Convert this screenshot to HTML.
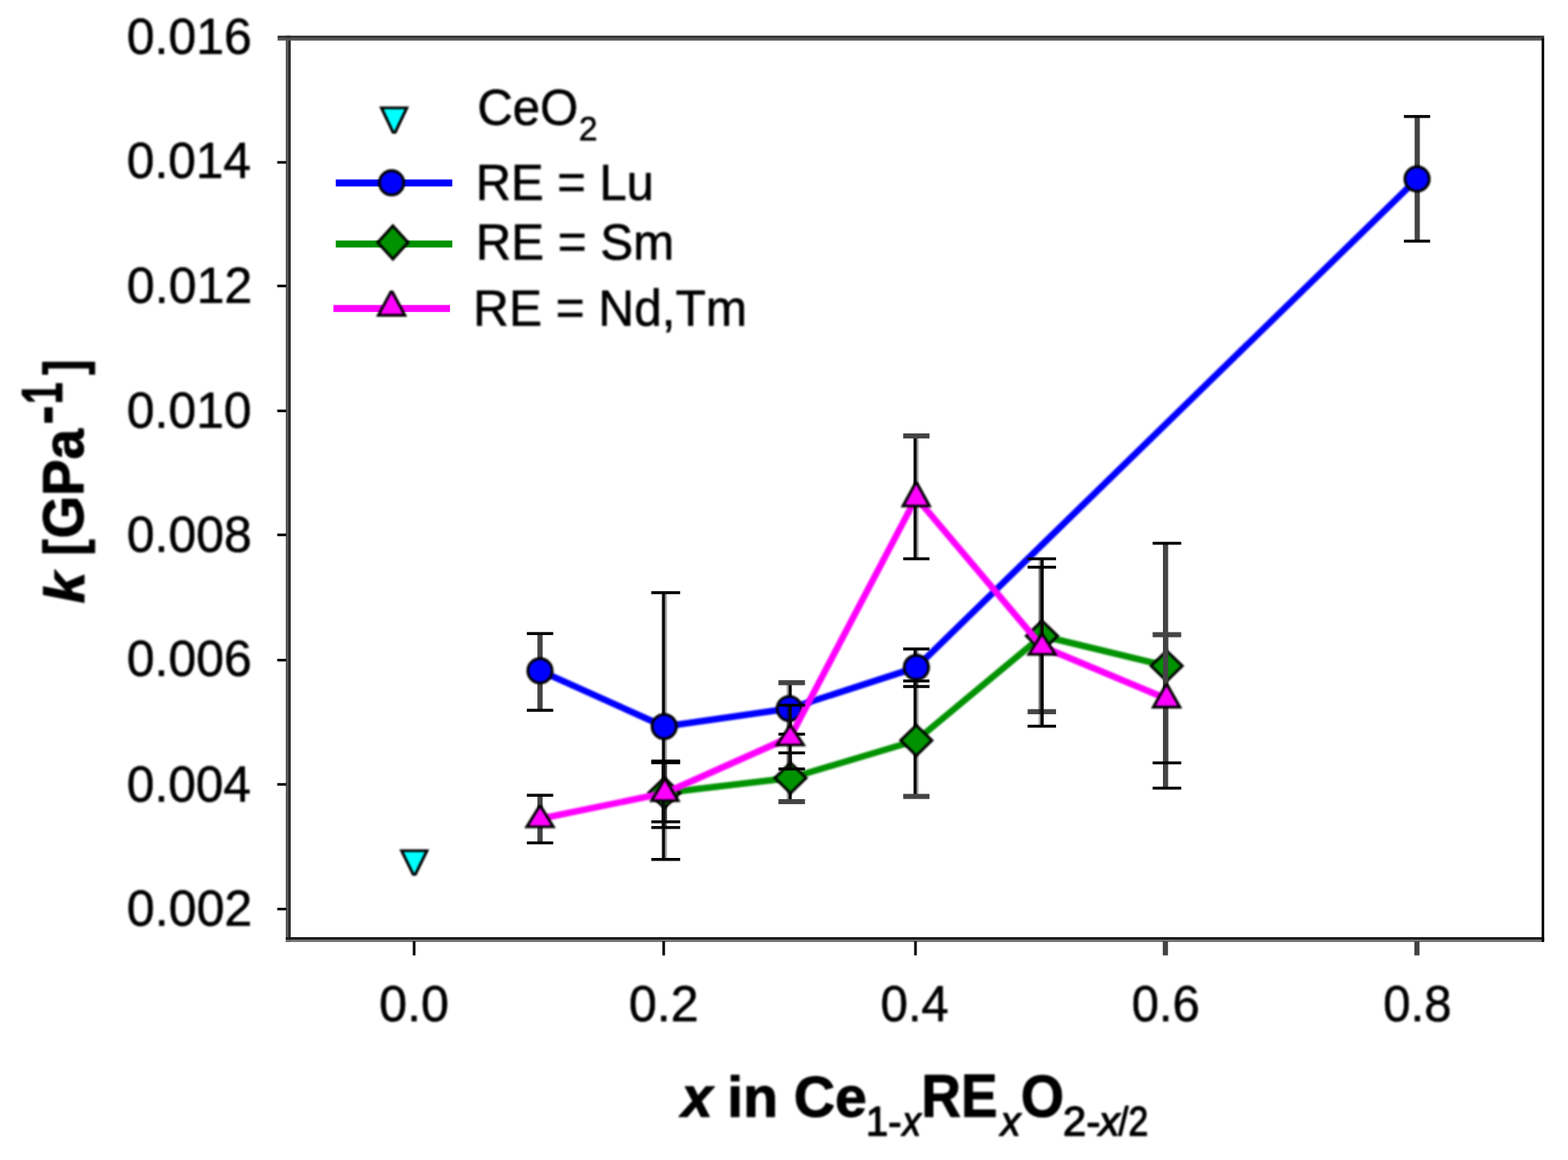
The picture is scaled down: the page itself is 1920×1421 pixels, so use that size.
<!DOCTYPE html>
<html lang="en"><head><meta charset="utf-8"><title>k vs x in Ce1-xRExO2-x/2</title>
<style>
html,body{margin:0;padding:0;background:#fff;}
body{width:1920px;height:1421px;overflow:hidden;}
svg{display:block;font-family:"Liberation Sans",Arial,Helvetica,sans-serif;}
.b{filter:blur(0.9px);}
text{fill:#000;}
.r{stroke:#000;stroke-width:0.7px;stroke-linejoin:round;}
.d{stroke:#000;stroke-width:1.2px;stroke-linejoin:round;}
</style></head><body>
<svg width="1920" height="1421" viewBox="0 0 1920 1421">
<rect x="-20" y="-20" width="1960" height="1461" fill="#fff"/>

<g id="axes">
<rect x="349.90" y="43.70" width="3.00" height="1110.30" fill="#585858"/>
<rect x="352.90" y="43.70" width="3.10" height="1110.30" fill="#2c2c2c"/>
<rect x="339.90" y="43.70" width="1550.90" height="3.10" fill="#2e2e2e"/>
<rect x="339.90" y="46.80" width="1550.90" height="2.90" fill="#545454"/>
<rect x="349.90" y="1148.00" width="1540.90" height="3.10" fill="#1a1a1a"/>
<rect x="349.90" y="1151.10" width="1540.90" height="2.80" fill="#6e6e6e"/>
<rect x="1887.70" y="46.60" width="3.10" height="1107.30" fill="#000"/>
<rect x="339.50" y="1112.00" width="11.00" height="3.20" fill="#000"/>
<rect x="339.50" y="959.30" width="11.00" height="3.20" fill="#000"/>
<rect x="339.50" y="807.10" width="11.00" height="3.20" fill="#000"/>
<rect x="339.50" y="653.60" width="11.00" height="3.20" fill="#000"/>
<rect x="339.50" y="501.70" width="11.00" height="3.20" fill="#000"/>
<rect x="339.50" y="348.70" width="11.00" height="3.20" fill="#000"/>
<rect x="339.50" y="197.30" width="11.00" height="3.20" fill="#000"/>
<rect x="505.50" y="1153.00" width="3.20" height="17.40" fill="#000"/>
<rect x="811.10" y="1153.00" width="3.20" height="17.40" fill="#000"/>
<rect x="1119.40" y="1153.00" width="3.20" height="17.40" fill="#000"/>
<rect x="1423.80" y="1153.00" width="6.40" height="17.40" fill="#444"/>
<rect x="1731.80" y="1153.00" width="6.40" height="17.40" fill="#444"/>
</g>
<polyline class="b" points="661.2,821.7 813.3,890 966.5,868 1122.1,817.6 1735.2,219.2" fill="none" stroke="#0000ff" stroke-width="8.0" stroke-linejoin="round"/>
<g>
<rect x="658.10" y="776.10" width="6.40" height="94.00" fill="#444"/>
<rect x="645.10" y="774.30" width="32.30" height="3.60" fill="#000"/>
<rect x="645.10" y="868.30" width="32.30" height="3.60" fill="#000"/>
<rect x="814.40" y="726.00" width="2.40" height="326.80" fill="#000" fill-opacity="0.33"/>
<rect x="810.50" y="726.00" width="4.00" height="326.80" fill="#0a0a0a"/>
<rect x="797.50" y="724.20" width="35.30" height="3.60" fill="#000"/>
<rect x="797.50" y="1051.00" width="35.30" height="3.60" fill="#000"/>
<rect x="963.20" y="836.30" width="2.40" height="63.10" fill="#000" fill-opacity="0.33"/>
<rect x="965.50" y="836.30" width="4.00" height="63.10" fill="#0a0a0a"/>
<rect x="953.20" y="833.20" width="32.50" height="6.20" fill="#444"/>
<rect x="953.20" y="897.60" width="32.50" height="3.60" fill="#000"/>
<rect x="1122.50" y="795.00" width="2.40" height="46.00" fill="#000" fill-opacity="0.33"/>
<rect x="1118.60" y="795.00" width="4.00" height="46.00" fill="#0a0a0a"/>
<rect x="1106.00" y="793.20" width="32.20" height="3.60" fill="#000"/>
<rect x="1106.00" y="839.20" width="32.20" height="3.60" fill="#000"/>
<rect x="1732.20" y="142.70" width="6.40" height="152.70" fill="#444"/>
<rect x="1719.10" y="140.90" width="32.10" height="3.60" fill="#000"/>
<rect x="1719.10" y="293.60" width="32.10" height="3.60" fill="#000"/>
</g>
<g class="b" stroke="#000" stroke-width="3.4" fill="#0000ff" stroke-linejoin="miter" stroke-miterlimit="10"><circle cx="661.2" cy="821.7" r="14.9"/><circle cx="813.3" cy="890" r="14.9"/><circle cx="966.5" cy="868" r="14.9"/><circle cx="1122.1" cy="817.6" r="14.9"/><circle cx="1735.2" cy="219.2" r="14.9"/></g>
<polyline class="b" points="813.5,971.2 968,953 1122,907 1275.9,779 1428.6,815.8" fill="none" stroke="#009200" stroke-width="8.0" stroke-linejoin="round"/>
<g>
<rect x="814.40" y="932.30" width="2.40" height="74.40" fill="#000" fill-opacity="0.33"/>
<rect x="810.50" y="932.30" width="4.00" height="74.40" fill="#0a0a0a"/>
<rect x="797.50" y="930.50" width="35.30" height="3.60" fill="#000"/>
<rect x="797.50" y="1004.90" width="35.30" height="3.60" fill="#000"/>
<rect x="963.20" y="922.30" width="2.40" height="59.70" fill="#000" fill-opacity="0.33"/>
<rect x="965.50" y="922.30" width="4.00" height="59.70" fill="#0a0a0a"/>
<rect x="953.20" y="920.50" width="32.50" height="3.60" fill="#000"/>
<rect x="953.20" y="978.90" width="32.50" height="6.20" fill="#444"/>
<rect x="1122.50" y="834.20" width="2.40" height="141.40" fill="#000" fill-opacity="0.33"/>
<rect x="1118.60" y="834.20" width="4.00" height="141.40" fill="#0a0a0a"/>
<rect x="1106.00" y="832.40" width="32.20" height="3.60" fill="#000"/>
<rect x="1106.00" y="972.50" width="32.20" height="6.20" fill="#444"/>
<rect x="1271.70" y="684.50" width="2.40" height="187.30" fill="#000" fill-opacity="0.33"/>
<rect x="1274.00" y="684.50" width="4.00" height="187.30" fill="#0a0a0a"/>
<rect x="1258.30" y="682.70" width="34.80" height="3.60" fill="#000"/>
<rect x="1258.30" y="868.70" width="34.80" height="6.20" fill="#444"/>
<rect x="1424.00" y="665.50" width="6.40" height="300.00" fill="#444"/>
<rect x="1411.40" y="663.70" width="35.00" height="3.60" fill="#000"/>
<rect x="1411.40" y="963.70" width="35.00" height="3.60" fill="#000"/>
</g>
<g class="b" stroke="#000" stroke-width="3.4" fill="#009200" stroke-linejoin="miter" stroke-miterlimit="10"><path d="M813.5,952.6L832.7,971.2L813.5,989.8000000000001L794.3,971.2Z"/><path d="M968,934.4L987.2,953L968,971.6L948.8,953Z"/><path d="M1122,888.4L1141.2,907L1122,925.6L1102.8,907Z"/><path d="M1275.9,760.4L1295.1000000000001,779L1275.9,797.6L1256.7,779Z"/><path d="M1428.6,797.1999999999999L1447.8,815.8L1428.6,834.4L1409.3999999999999,815.8Z"/></g>
<polyline class="b" points="661.3,1003 814.2,971.5 967.7,903 1121.9,609.5 1276,792 1428.5,856" fill="none" stroke="#ff00ff" stroke-width="8.0" stroke-linejoin="round"/>
<g>
<rect x="658.10" y="974.20" width="6.40" height="58.30" fill="#444"/>
<rect x="645.10" y="972.40" width="32.30" height="3.60" fill="#000"/>
<rect x="645.10" y="1030.70" width="32.30" height="3.60" fill="#000"/>
<rect x="814.40" y="934.40" width="2.40" height="79.30" fill="#000" fill-opacity="0.33"/>
<rect x="810.50" y="934.40" width="4.00" height="79.30" fill="#0a0a0a"/>
<rect x="797.50" y="932.60" width="35.30" height="3.60" fill="#000"/>
<rect x="797.50" y="1011.90" width="35.30" height="3.60" fill="#000"/>
<rect x="963.20" y="863.80" width="2.40" height="78.20" fill="#000" fill-opacity="0.33"/>
<rect x="965.50" y="863.80" width="4.00" height="78.20" fill="#0a0a0a"/>
<rect x="953.20" y="862.00" width="32.50" height="3.60" fill="#000"/>
<rect x="953.20" y="940.20" width="32.50" height="3.60" fill="#000"/>
<rect x="1122.50" y="534.00" width="2.40" height="150.50" fill="#000" fill-opacity="0.33"/>
<rect x="1118.60" y="534.00" width="4.00" height="150.50" fill="#0a0a0a"/>
<rect x="1106.00" y="530.90" width="32.20" height="6.20" fill="#444"/>
<rect x="1106.00" y="682.70" width="32.20" height="3.60" fill="#000"/>
<rect x="1271.70" y="694.80" width="2.40" height="194.80" fill="#000" fill-opacity="0.33"/>
<rect x="1274.00" y="694.80" width="4.00" height="194.80" fill="#0a0a0a"/>
<rect x="1258.30" y="693.00" width="34.80" height="3.60" fill="#000"/>
<rect x="1258.30" y="887.80" width="34.80" height="3.60" fill="#000"/>
<rect x="1424.00" y="777.50" width="6.40" height="157.00" fill="#444"/>
<rect x="1411.40" y="774.40" width="35.00" height="6.20" fill="#444"/>
<rect x="1411.40" y="932.70" width="35.00" height="3.60" fill="#000"/>
</g>
<g class="b" stroke="#000" stroke-width="3.4" fill="#ff00ff" stroke-linejoin="miter" stroke-miterlimit="10"><path d="M660.3,988.00h2L677.5999999999999,1012.90H645.0Z"/><path d="M813.2,955.20h2L830.5,980.90H797.9000000000001Z"/><path d="M966.7,889.60h2L984.0,912.60H951.4000000000001Z"/><path d="M1120.9,591.90h2L1138.2,619.90H1105.6000000000001Z"/><path d="M1275,777.90h2L1292.3,801.60H1259.7Z"/><path d="M1427.5,839.20h2L1444.8,866.20H1412.2Z"/></g>
<g class="b" stroke="#000" stroke-width="3.4" fill="#00ffff" stroke-linejoin="miter" stroke-miterlimit="10"><path d="M505.90000000000003,1071.00h2.8L522.9,1042.10H491.7Z"/></g>
<g class="b" stroke="#000" stroke-width="3.4" fill="#00ffff" stroke-linejoin="miter" stroke-miterlimit="10"><path d="M481.20000000000005,162.00h2.8L498.20000000000005,132.10H467.0Z"/></g>
<rect x="411.20" y="219.80" width="142.60" height="8.60" fill="#0000ff"/>
<g class="b" stroke="#000" stroke-width="3.4" fill="#0000ff" stroke-linejoin="miter" stroke-miterlimit="10"><circle cx="479.5" cy="223.9" r="14.9"/></g>
<rect x="411.20" y="294.60" width="142.60" height="8.60" fill="#009200"/>
<g class="b" stroke="#000" stroke-width="3.4" fill="#009200" stroke-linejoin="miter" stroke-miterlimit="10"><path d="M481.1,276.6L499.70000000000005,297L481.1,317.4L462.5,297Z"/></g>
<rect x="408.30" y="373.60" width="142.70" height="8.60" fill="#ff00ff"/>
<g class="b" stroke="#000" stroke-width="3.4" fill="#ff00ff" stroke-linejoin="miter" stroke-miterlimit="10"><path d="M478.5,357.80h2L495.8,386.20H463.2Z"/></g>
<g class="b">
<text class="r" transform="translate(155.35,1134.0) scale(0.9710,1)" style="font-size:63.2px;">0.002</text>
<text class="r" transform="translate(155.37,981.6) scale(0.9611,1)" style="font-size:63.2px;">0.004</text>
<text class="r" transform="translate(155.36,828.1999999999999) scale(0.9670,1)" style="font-size:63.2px;">0.006</text>
<text class="r" transform="translate(155.36,675.6) scale(0.9670,1)" style="font-size:63.2px;">0.008</text>
<text class="r" transform="translate(155.36,523.9) scale(0.9650,1)" style="font-size:63.2px;">0.010</text>
<text class="r" transform="translate(155.35,370.79999999999995) scale(0.9710,1)" style="font-size:63.2px;">0.012</text>
<text class="r" transform="translate(155.37,218.3) scale(0.9611,1)" style="font-size:63.2px;">0.014</text>
<text class="r" transform="translate(155.36,65.7) scale(0.9670,1)" style="font-size:63.2px;">0.016</text>
<text class="r" transform="translate(464.24,1251.2) scale(0.9723,1)" style="font-size:63.2px;">0.0</text>
<text class="r" transform="translate(769.94,1251.2) scale(0.9737,1)" style="font-size:63.2px;">0.2</text>
<text class="r" transform="translate(1078.19,1251.2) scale(0.9518,1)" style="font-size:63.2px;">0.4</text>
<text class="r" transform="translate(1385.81,1251.2) scale(0.9469,1)" style="font-size:63.2px;">0.6</text>
<text class="r" transform="translate(1693.79,1251.2) scale(0.9518,1)" style="font-size:63.2px;">0.8</text>
<text class="r" transform="translate(582.51,244.8) scale(0.9597,1)" style="font-size:62.4px;">RE = Lu</text>
<text class="r" transform="translate(582.47,318.0) scale(0.9673,1)" style="font-size:62.4px;">RE = Sm</text>
<text class="r" transform="translate(579.35,399.1) scale(0.9725,1)" style="font-size:62.4px;">RE = Nd,Tm</text>
<text class="r" xml:space="preserve"><tspan x="584.39" y="153.00" textLength="123.79" lengthAdjust="spacingAndGlyphs" style="font-size:62.6px;">CeO</tspan><tspan x="708.63" y="172.30" textLength="22.98" lengthAdjust="spacingAndGlyphs" style="font-size:43px;">2</tspan></text>
<text class="d" xml:space="preserve"><tspan x="834.16" y="1367.80" textLength="57.65" lengthAdjust="spacingAndGlyphs" style="font-size:70.6px;font-weight:bold;font-style:italic">x </tspan><tspan x="890.51" y="1367.80" textLength="170.93" lengthAdjust="spacingAndGlyphs" style="font-size:70.6px;font-weight:bold">in Ce</tspan><tspan x="1060.21" y="1390.80" textLength="43.77" lengthAdjust="spacingAndGlyphs" style="font-size:50.5px;stroke-width:1.5px">1-</tspan><tspan x="1105.01" y="1390.80" textLength="22.65" lengthAdjust="spacingAndGlyphs" style="font-size:50.5px;font-style:italic;stroke-width:1.5px">x</tspan><tspan x="1128.24" y="1367.80" textLength="93.19" lengthAdjust="spacingAndGlyphs" style="font-size:73.6px;font-weight:bold">RE</tspan><tspan x="1225.35" y="1390.80" textLength="24.42" lengthAdjust="spacingAndGlyphs" style="font-size:50.5px;font-style:italic;stroke-width:1.5px">x</tspan><tspan x="1249.88" y="1368.10" textLength="52.83" lengthAdjust="spacingAndGlyphs" style="font-size:72.4px;font-weight:bold">O</tspan><tspan x="1301.63" y="1390.80" textLength="45.64" lengthAdjust="spacingAndGlyphs" style="font-size:50.5px;stroke-width:1.5px">2-</tspan><tspan x="1345.64" y="1390.80" textLength="25.49" lengthAdjust="spacingAndGlyphs" style="font-size:50.5px;font-style:italic;stroke-width:1.5px">x</tspan><tspan x="1369.60" y="1390.80" textLength="36.44" lengthAdjust="spacingAndGlyphs" style="font-size:50.5px;stroke-width:1.5px">/2</tspan></text>
<text class="d" transform="rotate(-90)" xml:space="preserve"><tspan x="-739.19" y="102.60" textLength="58.02" lengthAdjust="spacingAndGlyphs" style="font-size:68.5px;font-weight:bold;font-style:italic">k </tspan><tspan x="-680.50" y="101.80" textLength="19.98" lengthAdjust="spacingAndGlyphs" style="font-size:68.5px;font-weight:bold">[</tspan><tspan x="-659.48" y="102.20" textLength="134.01" lengthAdjust="spacingAndGlyphs" style="font-size:69.5px;font-weight:bold">GPa</tspan><tspan x="-520.11" y="79.30" textLength="23.38" lengthAdjust="spacingAndGlyphs" style="font-size:76px;font-weight:bold">-</tspan><tspan x="-495.00" y="76.40" textLength="26.55" lengthAdjust="spacingAndGlyphs" style="font-size:69.5px;font-weight:bold">1</tspan><tspan x="-459.36" y="101.80" textLength="18.73" lengthAdjust="spacingAndGlyphs" style="font-size:68.5px;font-weight:bold">]</tspan></text>
</g>
</svg></body></html>
